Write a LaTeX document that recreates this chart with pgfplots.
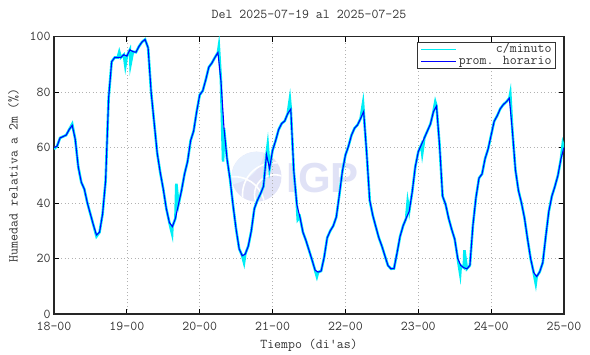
\documentclass[border=0pt]{standalone}
\usepackage{fontspec}
\usepackage{pgfplots}
\pgfplotsset{compat=1.18}
\usepackage{pgfplotstable}
\newfontfamily\igpfont{Liberation Sans}
\definecolor{cyanline}{RGB}{0,238,245}
\definecolor{legcyan}{RGB}{150,250,250}
\definecolor{blueline}{RGB}{0,0,255}
\definecolor{wm}{RGB}{224,226,246}
\definecolor{wmlight}{RGB}{232,240,253}
\newcommand{\chartfont}{\ttfamily\fontsize{13.5bp}{16bp}\selectfont}

\pgfplotstableread{
h v
0 60
1 60.5
2 63.5
3 64
4 64.5
5 66.5
6 68
7 63
8 53
9 47.5
10 45
11 40
12 36
13 32
14 28.5
15 29.5
16 36
17 48
18 78
19 91
20 92.5
21 92.5
22 92.5
23 93.5
24 93
25 95.3
26 94.6
27 94.4
28 96.5
29 98.1
30 99
31 96
32 80
33 69
34 58
35 51
36 45
37 38
38 33
39 31.5
40 34.5
41 39.5
42 44.5
43 50.5
44 55
45 62.5
46 66
47 73
48 79
49 80.5
50 84.5
51 89
52 90.5
53 92.5
54 94.3
55 84
56 67
57 56
58 48.5
59 39
60 30.5
61 23.5
62 21
63 21.6
64 24.5
65 30
66 38
67 41
68 43.3
69 46
70 57.5
71 52.5
72 59
73 62.5
74 66.5
75 68.7
76 69.6
77 72.3
78 73.9
79 51.5
80 39.4
81 35
82 29.5
83 26.5
84 23
85 19.5
86 15.8
87 15.1
88 15.5
89 20.5
90 27.5
91 30
92 31.8
93 35
94 43
95 51.5
96 57.3
97 60.5
98 64.5
99 67
100 68.2
101 70.5
102 73
103 58
104 41
105 35.6
106 31.5
107 27.5
108 24.5
109 21
110 17.5
111 16.3
112 16.4
113 22
114 28
115 31.8
116 34.5
117 37
118 44
119 53
120 58.5
121 61
122 63.5
123 66
124 68.5
125 73
126 75
127 61
128 42.5
129 39.5
130 34.5
131 30.5
132 27
133 20
134 17.5
135 16.7
136 16.3
137 17.5
138 32
139 42
140 49
141 50.5
142 56
143 59.5
144 64.5
145 69.5
146 71.5
147 74
148 75.5
149 76.5
150 77.8
151 66
152 52
153 44.5
154 40
155 34.5
156 27
157 20
158 15
159 13.5
160 15.2
161 18.5
162 28
163 37
164 42.5
165 46
166 50
167 56
168 60
}\hourly

\pgfplotstableread{
h v
0 59.5
1 60.5
2 63.5
3 64
4 64.5
5 66.5
6 68.5
7 63
8 53
9 47.5
10 45
11 40
12 36
13 32
14 28
15 29.5
16 36
17 48
18 78
19 91
20 92.5
21 92.5
21.5 94.5
22 92.5
23 93.5
23.5 89.5
24 93
25 95.3
25.2 90
26 94.6
27 94.4
28 96.5
29 98.1
30 99
31 96
32 80
33 69
34 58
35 51
36 45
37 38
38 33
38.9 29
39 31.5
40 34.5
40.3 47
41 39.5
42 44.5
43 50.5
44 55
45 62.5
46 66
47 73
48 79
49 80.5
50 84.5
51 89
52 90.5
53 92.5
54 94.3
54.3 96.5
55 84
55.7 55
56 67
57 56
58 48.5
59 39
60 30.5
61 23.5
62 21
62.6 18.5
63 21.6
64 24.5
65 30
66 38
67 41
68 43.3
69 46
70 57.5
70.4 61
71 52.5
72 59
73 62.5
74 66.5
75 68.7
76 69.6
77 72.3
77.7 77.5
78 73.9
79 51.5
80 39.4
80.3 34
81 35
82 29.5
83 26.5
84 23
85 19.5
86 15.8
86.6 13.5
87 15.1
88 15.5
89 20.5
90 27.5
91 30
92 31.8
93 35
94 43
95 51.5
96 57.3
97 60.5
98 64.5
99 67
100 68.2
101 70.5
101.8 76
102 73
103 58
104 41
105 35.6
106 31.5
107 27.5
108 24.5
109 21
110 17.5
111 16.3
112 16.4
113 22
114 28
115 31.8
116 34.5
116.5 40.5
117 37
118 44
119 53
120 58.5
121 61
121.3 58
122 63.5
123 66
124 68.5
125 73
125.6 76.5
126 75
127 61
128 42.5
129 39.5
130 34.5
131 30.5
132 27
133 20
133.8 14.5
134 17.5
135 16.7
135.2 23
136 16.3
137 17.5
138 32
139 42
140 49
141 50.5
142 56
143 59.5
144 64.5
145 69.5
146 71.5
147 74
148 75.5
149 76.5
150 77.8
150.3 79.5
151 66
152 52
153 44.5
154 40
155 34.5
156 27
157 20
158 15
158.7 11
159 13.5
160 15.2
161 18.5
162 28
163 37
164 42.5
165 46
166 50
167 56
167.6 61.5
168 60
}\minute

\begin{document}
\begin{tikzpicture}[font=\chartfont]
% watermark (background, drawn before the axis)
\begin{scope}[shift={(202.5bp,137.3bp)}]
  \fill[wm] (0,0) circle[radius=25bp];
  \begin{scope}
    \clip (0,0) circle[radius=25bp];
    \fill[wmlight] (-30bp,30bp) circle[radius=38bp];
    \draw[white, line width=1.6bp] (18bp,-18bp) circle[radius=20bp];
    \draw[white, line width=1.6bp] (18bp,-18bp) circle[radius=32bp];
    \draw[white, line width=1.6bp] (-22bp,-30bp) circle[radius=30bp];
  \end{scope}
\end{scope}
\node[text=wm, font=\igpfont\bfseries\fontsize{42bp}{42bp}\selectfont] at (268.8bp,136.4bp) {IGP};
\begin{axis}[
  at={(0,0)}, anchor=south west,
  scale only axis, width=510bp, height=277.3bp,
  xmin=0, xmax=168, ymin=0, ymax=100,
  xtick={0,24,48,72,96,120,144,168},
  xticklabels={18-00,19-00,20-00,21-00,22-00,23-00,24-00,25-00},
  ytick={0,20,40,60,80,100},
  grid=major,
  major grid style={gray!60, line width=0.5bp, dash pattern=on 1bp off 2.5bp},
  tick align=inside, major tick length=5bp,
  tick style={black, line width=0.9bp},
  axis line style={black!85, line width=1.2bp},
  /pgf/number format/assume math mode=true,
  every tick label/.append style={font=\chartfont, text=black!80},
  xticklabel style={anchor=base, yshift=-17bp},
  title={Del 2025-07-19 al 2025-07-25},
  title style={at={(axis description cs:0.5,1)}, anchor=base, yshift=12.7bp, font=\chartfont, text=black!80},
  xlabel={Tiempo (di'as)},
  xlabel style={at={(axis description cs:0.5,-0.112)}, anchor=center, font=\chartfont, text=black!80},
  ylabel={Humedad relativa a 2m (\%)},
  ylabel style={at={(axis description cs:-0.0794,0.5)}, anchor=center, font=\chartfont, text=black!80},
  legend style={at={(axis description cs:0.984,0.981)}, anchor=north east,
    draw=black!80, line width=0.6bp, fill=white, font=\chartfont,
    inner xsep=4bp, inner ysep=1bp, row sep=0bp, column sep=2bp,
    nodes={inner sep=0pt, text height=9bp, text depth=3bp, text=black!80}},
  legend cell align=right,
  legend image code/.code={\draw[#1, line width=1bp] (0bp,0bp) -- (35bp,0bp);},
]
\addplot[cyanline, line width=2.6bp] table[x=h,y=v]{\minute};
\addlegendentry{c/minuto}
\addplot[blueline, line width=1.1bp] table[x=h,y=v]{\hourly};
\addlegendentry{prom. horario}
\end{axis}
\path (-54bp,-40bp) rectangle (536bp,314bp);
\end{tikzpicture}
\end{document}
